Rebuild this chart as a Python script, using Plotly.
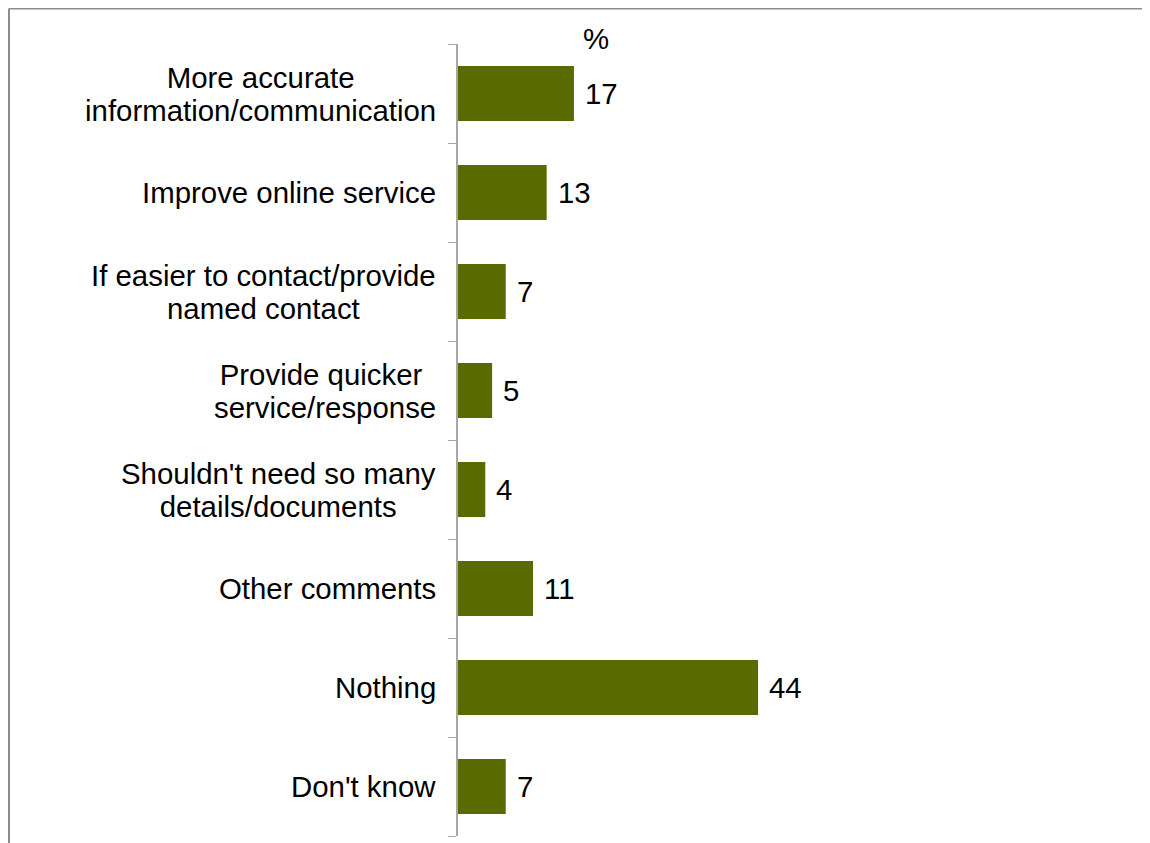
import plotly.graph_objects as go

categories = [
    "More accurate<br>information/communication",
    "Improve online service",
    "If easier to contact/provide<br>named contact",
    "Provide quicker\u00a0<br>service/response",
    "Shouldn't need so many<br>details/documents",
    "Other comments",
    "Nothing",
    "Don't know",
]
values = [17, 13, 7, 5, 4, 11, 44, 7]
value_labels = [str(v) for v in values]

BAR = "#586a00"
AXIS = "#a6a6a6"
FONT = "Liberation Sans, Arial, sans-serif"
FS = 29.4

idx = list(range(len(categories)))

fig = go.Figure()
fig.add_trace(go.Bar(
    x=values, y=idx, orientation="h",
    marker=dict(color=BAR, line=dict(width=0)),
    hoverinfo="skip",
))

annotations = []
for i, (c, v, t) in enumerate(zip(categories, values, value_labels)):
    annotations.append(dict(
        x=0, xref="paper", y=i, yref="y",
        text=f'<span style="font-size:{FS}px">{c}</span>', showarrow=False,
        xanchor="right", yanchor="middle", align="center", xshift=-20,
        font=dict(family=FONT, size=25.4, color="#000000"),
    ))
    annotations.append(dict(
        x=v, xref="x", y=i, yref="y", text=t, showarrow=False,
        xanchor="left", yanchor="middle", xshift=9,
        font=dict(family=FONT, size=FS, color="#000000"),
    ))
annotations.append(dict(
    x=0.405, xref="paper", y=1, yref="paper", text="%", showarrow=False,
    xanchor="center", yanchor="middle", yshift=6,
    font=dict(family=FONT, size=FS, color="#000000"),
))

L, T, W, H = 450, 36, 341, 792
bx = (1 - L) / W
ty = 1 + (T - 0.5) / H

fig.update_layout(
    width=1150, height=843,
    margin=dict(l=L, r=1150 - L - W, t=T, b=843 - T - H, pad=0),
    paper_bgcolor="white", plot_bgcolor="white",
    showlegend=False,
    bargap=0.444,
    annotations=annotations,
    font=dict(family=FONT, size=FS, color="#000000"),
    xaxis=dict(range=[0, 50], visible=False, fixedrange=True),
    yaxis=dict(
        type="linear", range=[7.5, -0.5], tickmode="array",
        tickvals=[i - 0.5 for i in range(len(categories) + 1)],
        showticklabels=False, ticks="outside", ticklen=8, tickcolor=AXIS,
        tickwidth=1, showline=True, linecolor=AXIS, linewidth=1.5,
        showgrid=False, zeroline=False, fixedrange=True,
    ),
    shapes=[
        dict(type="line", xref="paper", yref="paper", x0=bx, x1=bx, y0=-0.2, y1=ty,
             line=dict(color="#8c8c8c", width=2)),
        dict(type="line", xref="paper", yref="paper", x0=bx, x1=3, y0=ty, y1=ty,
             line=dict(color="#8c8c8c", width=2)),
    ],
)

fig.write_html("out.html")
